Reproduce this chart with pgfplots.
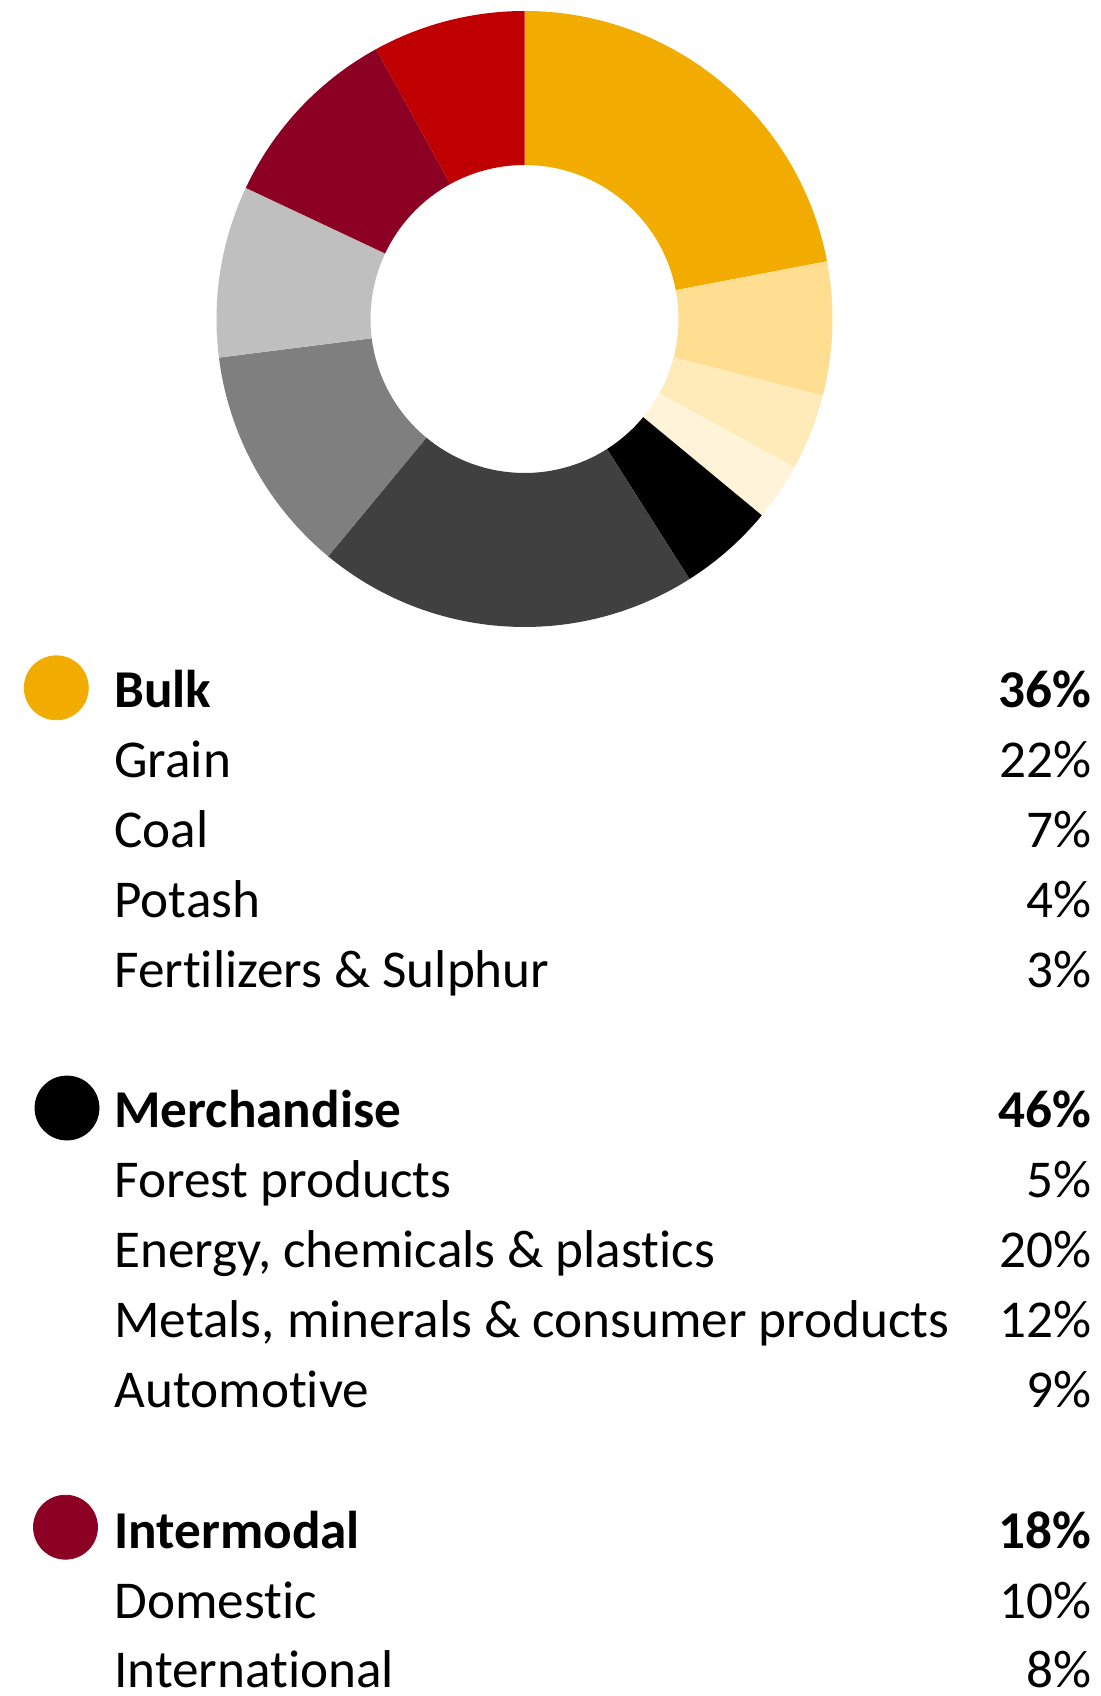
\documentclass[border=0pt]{standalone}
\usepackage{pgfplots}
\pgfplotsset{compat=1.18}
\usepackage{fontspec}
\setmainfont{Carlito}[Ligatures=NoCommon]
\definecolor{cGrain}{HTML}{F2AC00}
\definecolor{cCoal}{HTML}{FFDE91}
\definecolor{cPotash}{HTML}{FFEAB9}
\definecolor{cFert}{HTML}{FFF3DA}
\definecolor{cForest}{HTML}{000000}
\definecolor{cEnergy}{HTML}{404040}
\definecolor{cMetals}{HTML}{7F7F7F}
\definecolor{cAuto}{HTML}{BFBFBF}
\definecolor{cDom}{HTML}{8C0024}
\definecolor{cIntl}{HTML}{C00000}
\begin{document}
\begin{tikzpicture}
\begin{axis}[
  scale only axis, width=550.5bp, height=848bp,
  xmin=0, xmax=1101, ymin=0, ymax=1696, y dir=reverse,
  enlargelimits=false, hide axis, clip=false,
]
% donut: shares in percent, clockwise from 12 o'clock
\xdef\cum{90}
\foreach \v/\c in {22/cGrain,7/cCoal,4/cPotash,3/cFert,5/cForest,20/cEnergy,12/cMetals,9/cAuto,10/cDom,8/cIntl}{
  \pgfmathsetmacro{\e}{\cum-3.6*\v}
  \edef\temp{\noexpand\fill[\c, shift={(axis cs:524.5,319)}] (\cum:154bp) arc[start angle=\cum, end angle=\e, radius=154bp] -- (\e:77bp) arc[start angle=\e, end angle=\cum, radius=77bp] -- cycle;}
  \temp
  \xdef\cum{\e}
}
% legend dots
\addplot[only marks, mark=*, mark size=16bp, color=cGrain] coordinates {(56.3,687.8)};
\addplot[only marks, mark=*, mark size=16bp, color=black] coordinates {(67,1108)};
\addplot[only marks, mark=*, mark size=16bp, color=cDom] coordinates {(65.5,1527.2)};
% legend text
\tikzset{lt/.style={anchor=base west, inner sep=0pt, text depth=0pt, font=\fontsize{26.6bp}{30bp}\selectfont},
         rt/.style={anchor=base east, inner sep=0pt, text depth=0pt, font=\fontsize{26.6bp}{30bp}\selectfont}}
\node[lt] at (axis cs:114,707) {\textbf{Bulk}};
\node[rt] at (axis cs:1092,707) {\textbf{36\%}};
\node[lt] at (axis cs:114,777) {Grain};
\node[rt] at (axis cs:1092,777) {22\%};
\node[lt] at (axis cs:114,847) {Coal};
\node[rt] at (axis cs:1092,847) {7\%};
\node[lt] at (axis cs:114,917) {Potash};
\node[rt] at (axis cs:1092,917) {4\%};
\node[lt] at (axis cs:114,987.5) {Fertilizers \& Sulphur};
\node[rt] at (axis cs:1092,987.5) {3\%};
\node[lt] at (axis cs:114,1127.7) {\textbf{Merchandise}};
\node[rt] at (axis cs:1092,1127.7) {\textbf{46\%}};
\node[lt] at (axis cs:114,1197.7) {Forest products};
\node[rt] at (axis cs:1092,1197.7) {5\%};
\node[lt] at (axis cs:114,1267.7) {Energy, chemicals \& plastics};
\node[rt] at (axis cs:1092,1267.7) {20\%};
\node[lt] at (axis cs:114,1337.7) {Metals, minerals \& consumer products};
\node[rt] at (axis cs:1092,1337.7) {12\%};
\node[lt] at (axis cs:114,1407.7) {Automotive};
\node[rt] at (axis cs:1092,1407.7) {9\%};
\node[lt] at (axis cs:114,1548) {\textbf{Intermodal}};
\node[rt] at (axis cs:1092,1548) {\textbf{18\%}};
\node[lt] at (axis cs:114,1618) {Domestic};
\node[rt] at (axis cs:1092,1618) {10\%};
\node[lt] at (axis cs:114,1687) {International};
\node[rt] at (axis cs:1092,1687) {8\%};
\end{axis}
\pgfresetboundingbox
\path (current axis.south west) rectangle (current axis.north east);
\end{tikzpicture}
\end{document}
